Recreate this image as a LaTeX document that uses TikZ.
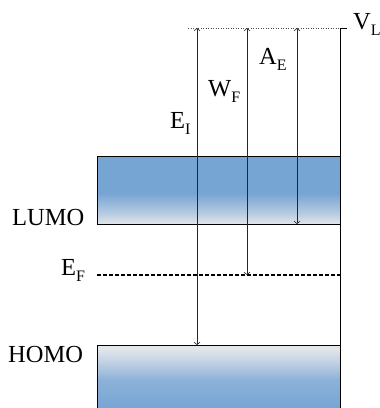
\documentclass[tikz,border=0pt]{standalone}
\usepackage{fontspec}
\setmainfont{Liberation Serif}
\usetikzlibrary{arrows.meta}
\definecolor{bandblue}{HTML}{76A4D3}
\definecolor{bandlight}{HTML}{E2E5EA}
\pgfdeclareverticalshading{lumoshade}{100bp}{color(0bp)=(bandlight); color(25bp)=(bandlight); color(34bp)=(bandlight!55!bandblue); color(48bp)=(bandblue); color(75bp)=(bandblue); color(100bp)=(bandblue)}
\pgfdeclareverticalshading{homoshade}{100bp}{color(0bp)=(bandblue); color(25bp)=(bandblue); color(48bp)=(bandblue!80!bandlight); color(62bp)=(bandlight!70!bandblue); color(72bp)=(bandlight); color(100bp)=(bandlight)}
\newcommand{\lbl}[2]{#1\raisebox{-0.25em}{\fontsize{16}{16}\selectfont #2}}
\begin{document}
\begin{tikzpicture}[x=1pt,y=-1pt,
  txt/.style={anchor=base west,inner sep=0pt,font=\fontsize{24.5}{28}\selectfont},
  gap/.style={draw=black!85,line width=0.6pt,{Straight Barb[length=2.5pt,width=6pt]}-{Straight Barb[length=2.5pt,width=6pt]}},
  edge/.style={draw=black,line width=0.9pt}]
\useasboundingbox (0,0) rectangle (380,408);
% bands
\shade[shading=lumoshade] (97,156) rectangle (340,224);
\draw[edge] (97,156) rectangle (340,224);
\shade[shading=homoshade] (97,345) rectangle (340,410);
\draw[edge] (97,410) -- (97,345) -- (340,345) -- (340,410);
% coordinates
\coordinate (vlL) at (188,28);
\coordinate (vlR) at (340,28);
\coordinate (vlT) at (347,28);
\coordinate (eiT) at (197,28);
\coordinate (eiB) at (197,345);
\coordinate (wfT) at (247,28);
\coordinate (wfB) at (247,275);
\coordinate (aeT) at (297,28);
\coordinate (aeB) at (297,224);
\coordinate (efL) at (97,275);
\coordinate (efR) at (340,275);
\coordinate (homoR) at (340,345);
% vacuum level
\draw[black!70,line width=0.5pt,dotted] (vlL) -- (vlR);
\draw[edge] (vlT) -- (vlR) -- (homoR);
% Fermi level
\draw[black,line width=1.2pt,dash pattern=on 4pt off 2pt] (efL) -- (efR);
% arrows
\draw[gap] (eiB) -- (eiT);
\draw[gap] (wfB) -- (wfT);
\draw[gap] (aeB) -- (aeT);
% labels
\node[txt] (vl) at (353,29) {\lbl{V}{L}};
\node[txt] (ae) at (259,64) {\lbl{A}{E}};
\node[txt] (wf) at (208,96) {\lbl{W}{F}};
\node[txt] (ei) at (170,128) {\lbl{E}{I}};
\node[txt] (lumo) at (12,225.5) {LUMO};
\node[txt] (ef) at (61,275.5) {\lbl{E}{F}};
\node[txt] (homo) at (8,362.5) {HOMO};
\end{tikzpicture}
\end{document}
